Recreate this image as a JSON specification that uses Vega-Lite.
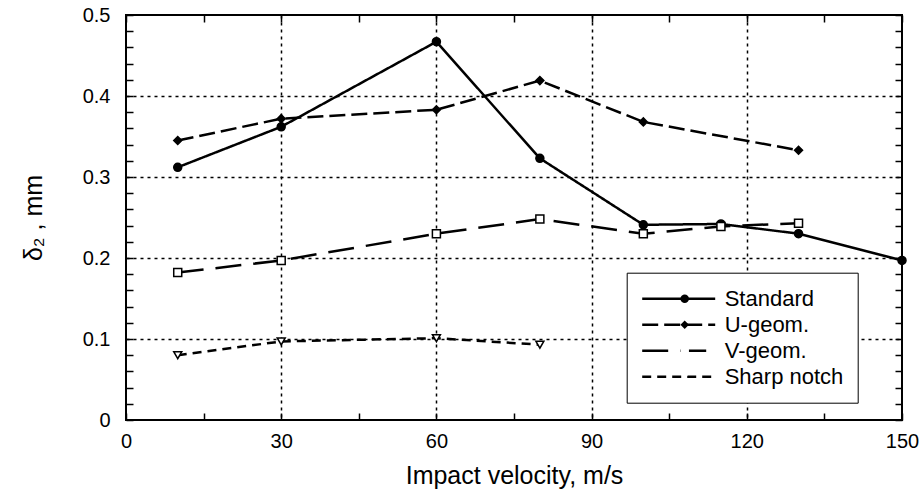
{
  "$schema": "https://vega.github.io/schema/vega-lite/v6.json",
  "width": 776,
  "height": 405,
  "autosize": {"type": "none"},
  "padding": {"left": 126, "top": 15, "right": 19, "bottom": 75},
  "background": "white",
  "config": {
    "font": "Liberation Sans",
    "view": {"stroke": "black", "strokeWidth": 2},
    "axis": {"labelColor": "black", "titleColor": "black", "tickColor": "black", "labelFont": "Liberation Sans", "titleFont": "Liberation Sans", "titleFontWeight": "normal"}
  },
  "data": {
    "values": [
      {"series": "Standard", "v": 10, "d": 0.312},
      {"series": "Standard", "v": 30, "d": 0.362},
      {"series": "Standard", "v": 60, "d": 0.467},
      {"series": "Standard", "v": 80, "d": 0.323},
      {"series": "Standard", "v": 100, "d": 0.241},
      {"series": "Standard", "v": 115, "d": 0.242},
      {"series": "Standard", "v": 130, "d": 0.230},
      {"series": "Standard", "v": 150, "d": 0.197},
      {"series": "U-geom.", "v": 10, "d": 0.345},
      {"series": "U-geom.", "v": 30, "d": 0.372},
      {"series": "U-geom.", "v": 60, "d": 0.383},
      {"series": "U-geom.", "v": 80, "d": 0.419},
      {"series": "U-geom.", "v": 100, "d": 0.368},
      {"series": "U-geom.", "v": 130, "d": 0.333},
      {"series": "V-geom.", "v": 10, "d": 0.182},
      {"series": "V-geom.", "v": 30, "d": 0.197},
      {"series": "V-geom.", "v": 60, "d": 0.230},
      {"series": "V-geom.", "v": 80, "d": 0.248},
      {"series": "V-geom.", "v": 100, "d": 0.230},
      {"series": "V-geom.", "v": 115, "d": 0.239},
      {"series": "V-geom.", "v": 130, "d": 0.243},
      {"series": "Sharp notch", "v": 10, "d": 0.080},
      {"series": "Sharp notch", "v": 30, "d": 0.097},
      {"series": "Sharp notch", "v": 60, "d": 0.101},
      {"series": "Sharp notch", "v": 80, "d": 0.093}
    ]
  },
  "layer": [
    {
      "mark": {"type": "line", "color": "black", "strokeWidth": 2.5},
      "encoding": {
        "x": {
          "field": "v", "type": "quantitative",
          "scale": {"domain": [0, 150], "nice": false, "zero": false},
          "axis": {
            "orient": "bottom",
            "values": [0, 15, 30, 45, 60, 75, 90, 105, 120, 135, 150],
            "labelExpr": "datum.value % 30 === 0 ? datum.label : ''",
            "labelFontSize": 20, "labelPadding": 18, "labelFlush": false, "labelOverlap": false,
            "tickSize": -7, "tickWidth": 1.5,
            "domain": false,
            "grid": true, "gridColor": "black", "gridDash": [3, 4], "gridWidth": 1.5,
            "gridOpacity": {"condition": {"test": "datum.value % 30 === 0 && datum.value > 0 && datum.value < 150", "value": 1}, "value": 0},
            "title": "Impact velocity, m/s", "titleFontSize": 25, "titlePadding": 12
          }
        },
        "y": {
          "field": "d", "type": "quantitative",
          "scale": {"domain": [0, 0.5], "nice": false},
          "axis": {
            "orient": "left",
            "values": [0, 0.02, 0.04, 0.06, 0.08, 0.1, 0.12, 0.14, 0.16, 0.18, 0.2, 0.22, 0.24, 0.26, 0.28, 0.3, 0.32, 0.34, 0.36, 0.38, 0.4, 0.42, 0.44, 0.46, 0.48, 0.5],
            "labelExpr": "abs(datum.value*10 - round(datum.value*10)) < 0.001 ? (datum.value == 0 ? '0' : format(datum.value, '.1f')) : ''",
            "labelFontSize": 20, "labelPadding": 23, "labelOverlap": false, "labelFlush": false,
            "tickSize": -7, "tickWidth": 1.5,
            "domain": false,
            "grid": true, "gridColor": "black", "gridDash": [3, 4], "gridWidth": 1.5,
            "gridOpacity": {"condition": {"test": "abs(datum.value*10 - round(datum.value*10)) < 0.001 && datum.value > 0.01 && datum.value < 0.49", "value": 1}, "value": 0},
            "title": "δ₂ , mm", "titleFontSize": 25, "titlePadding": 36
          }
        },
        "detail": {"field": "series"},
        "strokeDash": {
          "field": "series", "type": "nominal",
          "scale": {"domain": ["Standard", "U-geom.", "V-geom.", "Sharp notch"], "range": [[1, 0], [16, 6], [26, 12], [9, 6]]},
          "legend": {
            "orient": "none", "legendX": 500.7, "legendY": 257.7, "title": null,
            "symbolType": "stroke", "symbolSize": 5329, "symbolStrokeWidth": 2.5, "symbolStrokeColor": "black",
            "labelFontSize": 22, "labelFont": "Liberation Sans", "labelColor": "black", "labelOffset": 8, "labelLimit": 300,
            "padding": 14, "clipHeight": 24, "rowPadding": 2,
            "strokeColor": "black", "fillColor": "white",
            "encode": {"legend": {"strokeWidth": {"value": 2}}}
          }
        }
      }
    },
    {
      "mark": {"type": "point", "stroke": "black", "strokeWidth": 1.5, "opacity": 1, "size": 64},
      "encoding": {
        "x": {
          "field": "v", "type": "quantitative",
          "axis": {
            "orient": "top",
            "values": [0, 15, 30, 45, 60, 75, 90, 105, 120, 135, 150],
            "labels": false, "tickSize": -7, "tickWidth": 1.5, "domain": false, "grid": false, "title": null
          }
        },
        "y": {
          "field": "d", "type": "quantitative",
          "axis": {
            "orient": "right",
            "values": [0, 0.02, 0.04, 0.06, 0.08, 0.1, 0.12, 0.14, 0.16, 0.18, 0.2, 0.22, 0.24, 0.26, 0.28, 0.3, 0.32, 0.34, 0.36, 0.38, 0.4, 0.42, 0.44, 0.46, 0.48, 0.5],
            "labels": false, "tickSize": -7, "tickWidth": 1.5, "domain": false, "grid": false, "title": null
          }
        },
        "shape": {
          "field": "series", "type": "nominal", "sort": null,
          "scale": {"range": ["circle", "diamond", "square", "triangle-down"]},
          "legend": {
            "orient": "none", "legendX": 500.7, "legendY": 257.7, "title": null,
            "symbolSize": 72, "symbolStrokeWidth": 2, "symbolStrokeColor": "black",
            "labelFontSize": 22, "labelFont": "Liberation Sans", "labelExpr": "''", "labelOffset": 8,
            "padding": 14, "clipHeight": 24, "rowPadding": 2, "symbolOffset": 33,
            "encode": {"symbols": {
              "fill": {"signal": "datum.value === 'Standard' || datum.value === 'U-geom.' ? 'black' : 'white'"},
              "fillOpacity": {"value": 1},
              "stroke": {"value": "black"}, "strokeWidth": {"value": 2}, "strokeOpacity": {"value": 1}, "opacity": {"value": 1}}}
          }
        },
        "fill": {
          "field": "series", "type": "nominal", "sort": null,
          "scale": {"range": ["black", "black", "white", "white"]},
          "legend": null
        }
      }
    }
  ]
}
